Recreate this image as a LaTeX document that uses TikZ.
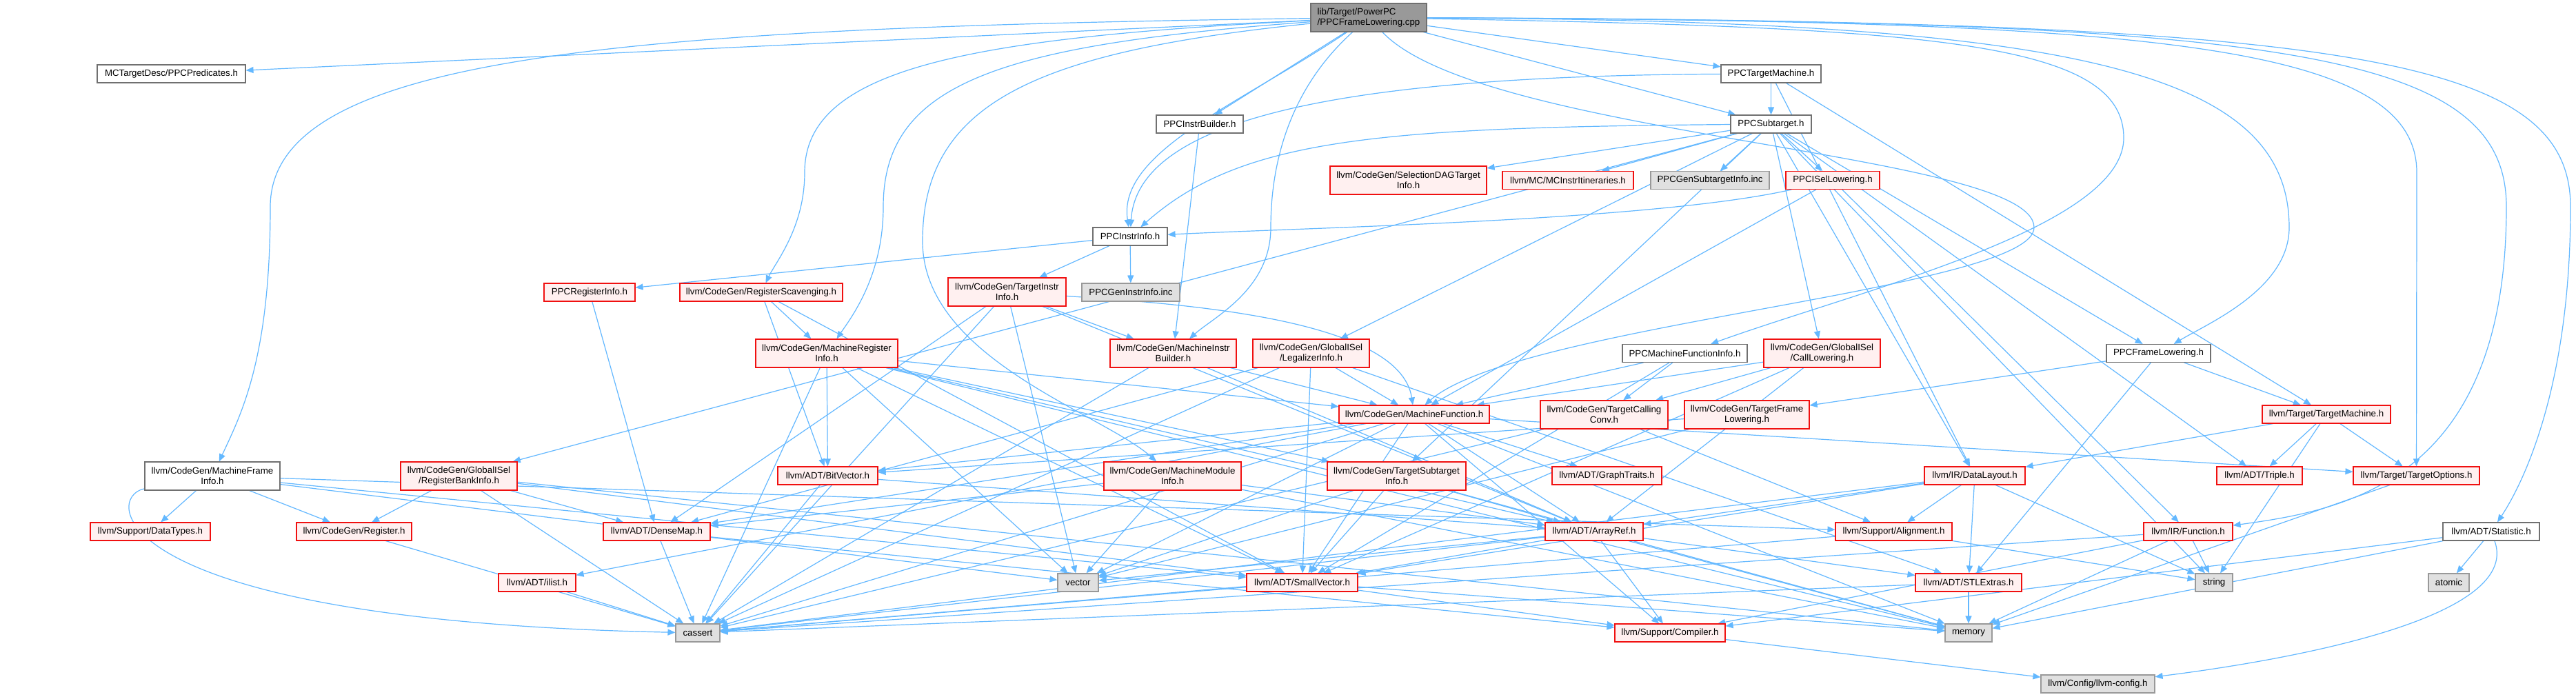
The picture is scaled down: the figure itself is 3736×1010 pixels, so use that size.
\documentclass[tikz,border=0pt]{standalone}
\usepackage{fontspec}
\setmainfont{Liberation Sans}
\usetikzlibrary{arrows.meta}
\definecolor{dxedge}{HTML}{63B8FF}
\definecolor{dxred}{HTML}{F01010}
\definecolor{dxpink}{HTML}{FFF0F0}
\definecolor{dxgray}{HTML}{E0E0E0}
\definecolor{dxgraybd}{HTML}{999999}
\definecolor{dxwbd}{HTML}{707070}
\definecolor{dxroot}{HTML}{999999}
\pgfdeclarelayer{bgl}\pgfdeclarelayer{edl}\pgfsetlayers{bgl,edl,main}
\newcommand\dxfont{\fontsize{13.3}{15}\selectfont}
\begin{document}
\begin{tikzpicture}[x=1pt,y=-1pt,
 bx/.style={draw, line width=1.1pt, minimum height=26pt, inner sep=0pt, align=center, font=\dxfont},
 redn/.style={bx, draw=dxred, fill=dxpink},
 grayn/.style={bx, draw=dxgraybd, fill=dxgray},
 whiten/.style={bx, draw=dxwbd, fill=white},
 rootn/.style={bx, draw=dxwbd, fill=dxroot, align=left},
 two/.style={minimum height=41pt},
 e/.style={draw=dxedge, line width=1.2pt, -{Triangle[length=11pt,width=9pt]}}]
\useasboundingbox (0,0) rectangle (3736,1010);
\begin{pgfonlayer}{bgl}\fill[white] (0,0) rectangle (3736,1010);\end{pgfonlayer}
% nodes
\node[rootn, two, minimum width=168pt] (root) at (1985,25.5) {lib/Target/PowerPC\\/PPCFrameLowering.cpp};
\node[whiten, minimum width=215pt] (pred) at (248.5,107) {MCTargetDesc/PPCPredicates.h};
\node[whiten, minimum width=145pt] (ptm) at (2568.5,107) {PPCTargetMachine.h};
\node[whiten, minimum width=126pt] (pib) at (1740,180) {PPCInstrBuilder.h};
\node[whiten, minimum width=117pt] (psub) at (2568.5,180) {PPCSubtarget.h};
\node[redn, two, minimum width=227pt] (sdag) at (2042.5,261.5) {llvm/CodeGen/SelectionDAGTarget\\Info.h};
\node[redn, minimum width=190pt] (mcii) at (2274,261.5) {llvm/MC/MCInstrItineraries.h};
\node[grayn, minimum width=172pt] (pgsi) at (2480,261.5) {PPCGenSubtargetInfo.inc};
\node[redn, minimum width=136pt] (pisel) at (2658,261.5) {PPCISelLowering.h};
\node[whiten, minimum width=108pt] (pii) at (1639,343) {PPCInstrInfo.h};
\node[redn, minimum width=132pt] (pri) at (855,424) {PPCRegisterInfo.h};
\node[redn, minimum width=236pt] (rsc) at (1104,424) {llvm/CodeGen/RegisterScavenging.h};
\node[redn, two, minimum width=171pt] (tii) at (1460.5,423.5) {llvm/CodeGen/TargetInstr\\Info.h};
\node[grayn, minimum width=142pt] (pgii) at (1640,424) {PPCGenInstrInfo.inc};
\node[redn, two, minimum width=206pt] (mri) at (1199,512.5) {llvm/CodeGen/MachineRegister\\Info.h};
\node[redn, two, minimum width=183pt] (mib) at (1701.5,512.5) {llvm/CodeGen/MachineInstr\\Builder.h};
\node[redn, two, minimum width=169pt] (leg) at (1901.5,512.5) {llvm/CodeGen/GlobalISel\\/LegalizerInfo.h};
\node[whiten, minimum width=181pt] (pmfi) at (2443.5,512.5) {PPCMachineFunctionInfo.h};
\node[redn, two, minimum width=169pt] (cl) at (2642.5,512.5) {llvm/CodeGen/GlobalISel\\/CallLowering.h};
\node[whiten, minimum width=151pt] (pfl) at (3130.5,512.5) {PPCFrameLowering.h};
\node[redn, minimum width=218pt] (mf) at (2051,601) {llvm/CodeGen/MachineFunction.h};
\node[redn, two, minimum width=185pt] (tcc) at (2326.5,601.5) {llvm/CodeGen/TargetCalling\\Conv.h};
\node[redn, two, minimum width=181pt] (tfl) at (2533.5,601.5) {llvm/CodeGen/TargetFrame\\Lowering.h};
\node[redn, minimum width=186pt] (tm) at (3374,601) {llvm/Target/TargetMachine.h};
\node[whiten, two, minimum width=196pt] (mfi) at (308,690.5) {llvm/CodeGen/MachineFrame\\Info.h};
\node[redn, two, minimum width=169pt] (rbi) at (665.5,690.5) {llvm/CodeGen/GlobalISel\\/RegisterBankInfo.h};
\node[redn, minimum width=145pt] (bv) at (1200.5,690) {llvm/ADT/BitVector.h};
\node[redn, two, minimum width=199pt] (mmi) at (1700.5,690.5) {llvm/CodeGen/MachineModule\\Info.h};
\node[redn, two, minimum width=201pt] (tsi) at (2025.5,690.5) {llvm/CodeGen/TargetSubtarget\\Info.h};
\node[redn, minimum width=159pt] (gt) at (2330.5,690) {llvm/ADT/GraphTraits.h};
\node[redn, minimum width=146pt] (dl) at (2864,690) {llvm/IR/DataLayout.h};
\node[redn, minimum width=124pt] (tri) at (3277,690) {llvm/ADT/Triple.h};
\node[redn, minimum width=183pt] (tgo) at (3504.5,690) {llvm/Target/TargetOptions.h};
\node[redn, minimum width=174pt] (dt) at (218,771) {llvm/Support/DataTypes.h};
\node[redn, minimum width=167pt] (reg) at (513.5,771) {llvm/CodeGen/Register.h};
\node[redn, minimum width=155pt] (dm) at (952.5,771) {llvm/ADT/DenseMap.h};
\node[redn, minimum width=142pt] (ar) at (2312,771) {llvm/ADT/ArrayRef.h};
\node[redn, minimum width=169pt] (al) at (2746.5,771) {llvm/Support/Alignment.h};
\node[redn, minimum width=129pt] (fn) at (3173.5,771) {llvm/IR/Function.h};
\node[whiten, minimum width=140pt] (stat) at (3613,771) {llvm/ADT/Statistic.h};
\node[redn, minimum width=112pt] (il) at (779,845) {llvm/ADT/ilist.h};
\node[grayn, minimum width=59pt] (vec) at (1563.5,845) {vector};
\node[redn, minimum width=161pt] (sv) at (1888.5,845) {llvm/ADT/SmallVector.h};
\node[redn, minimum width=154pt] (stl) at (2855,845) {llvm/ADT/STLExtras.h};
\node[grayn, minimum width=54pt] (str) at (3211,845) {string};
\node[grayn, minimum width=59pt] (atm) at (3551.5,845) {atomic};
\node[grayn, minimum width=64pt] (cas) at (1012,918) {cassert};
\node[redn, minimum width=160pt] (comp) at (2422,918) {llvm/Support/Compiler.h};
\node[grayn, minimum width=68pt] (mem) at (2855,918) {memory};
\node[grayn, minimum width=165pt] (cfg) at (3042.5,992) {llvm/Config/llvm-config.h};
% edges
\begin{pgfonlayer}{edl}
% root
\draw[e] (root) -- (pred);
\draw[e] (root) -- (ptm);
\draw[e] (root) -- (pib);
\draw[e] (root) -- (psub);
\draw[e] (root) .. controls (2150,200) and (2950,220) .. (2950,330) .. controls (2950,420) and (2200,470) .. (mf);
\draw[e] (root) .. controls (1800,150) and (1620,220) .. (pii);
\draw[e] (root) .. controls (900,40) and (392,80) .. (392,300) .. controls (392,520) and (350,600) .. (mfi);
\draw[e] (root) .. controls (1400,55) and (1167,100) .. (1167,250) .. controls (1167,330) and (1125,380) .. (rsc);
\draw[e] (root) .. controls (1450,65) and (1281,120) .. (1281,300) .. controls (1281,400) and (1235,460) .. (mri);
\draw[e] (root) .. controls (1500,75) and (1338,150) .. (1338,350) .. controls (1338,520) and (1600,600) .. (mmi);
\draw[e] (root) .. controls (1880,120) and (1843,220) .. (1843,330) .. controls (1843,420) and (1760,460) .. (mib);
\draw[e] (root) .. controls (2800,40) and (3080,60) .. (3080,200) .. controls (3080,330) and (2700,420) .. (pmfi);
\draw[e] (root) .. controls (3000,30) and (3320,100) .. (3320,330) .. controls (3320,420) and (3200,470) .. (pfl);
\draw[e] (root) .. controls (3100,30) and (3505,60) .. (3505,250) -- (tgo);
\draw[e] (root) .. controls (3300,30) and (3635,70) .. (3635,300) .. controls (3635,700) and (3400,740) .. (fn);
\draw[e] (root) .. controls (3400,30) and (3728,80) .. (3728,300) .. controls (3728,560) and (3660,700) .. (stat);
% PPCTargetMachine
\draw[e] (ptm) -- (psub);
\draw[e] (ptm) .. controls (2000,110) and (1650,160) .. (pii);
\draw[e] (ptm) -- (dl);
\draw[e] (ptm) -- (tm);
% PPCInstrBuilder
\draw[e] (pib) -- (mib);
% PPCSubtarget
\draw[e] (psub) -- (sdag);
\draw[e] (psub) -- (mcii);
\draw[e] (psub) -- (pgsi);
\draw[e] (psub) -- (pisel);
\draw[e] (psub) .. controls (2000,185) and (1800,200) .. (pii);
\draw[e] (psub) -- (pfl);
\draw[e] (psub) -- (cl);
\draw[e] (psub) -- (leg);
\draw[e] (psub) -- (rbi);
\draw[e] (psub) -- (tsi);
\draw[e] (psub) -- (dl);
\draw[e] (psub) -- (tri);
\draw[e] (psub) -- (str);
% PPCISelLowering
\draw[e] (pisel) .. controls (2400,320) and (1900,330) .. (pii);
\draw[e] (pisel) -- (mf);
\draw[e] (pisel) -- (fn);
% PPCInstrInfo
\draw[e] (pii) -- (pri);
\draw[e] (pii) -- (tii);
\draw[e] (pii) -- (pgii);
% PPCRegisterInfo
\draw[e] (pri) -- (dm);
% RegisterScavenging
\draw[e] (rsc) -- (mri);
\draw[e] (rsc) -- (bv);
\draw[e] (rsc) -- (sv);
% TargetInstrInfo
\draw[e] (tii) -- (mib);
\draw[e] (tii) .. controls (1700,440) and (2030,460) .. (mf);
\draw[e] (tii) -- (ar);
\draw[e] (tii) -- (dm);
\draw[e] (tii) -- (cas);
\draw[e] (tii) -- (vec);
% MachineRegisterInfo
\draw[e] (mri) -- (mf);
\draw[e] (mri) -- (tsi);
\draw[e] (mri) -- (bv);
\draw[e] (mri) -- (ar);
\draw[e] (mri) -- (sv);
\draw[e] (mri) -- (cas);
\draw[e] (mri) -- (mem);
\draw[e] (mri) -- (vec);
% MachineInstrBuilder
\draw[e] (mib) -- (mf);
\draw[e] (mib) -- (ar);
\draw[e] (mib) -- (cas);
% LegalizerInfo
\draw[e] (leg) -- (mf);
\draw[e] (leg) -- (sv);
\draw[e] (leg) -- (dm);
\draw[e] (leg) -- (stl);
\draw[e] (leg) -- (cas);
% PPCMachineFunctionInfo
\draw[e] (pmfi) -- (mf);
\draw[e] (pmfi) -- (tcc);
\draw[e] (pmfi) -- (sv);
% CallLowering
\draw[e] (cl) -- (tcc);
\draw[e] (cl) -- (mf);
\draw[e] (cl) -- (ar);
\draw[e] (cl) -- (sv);
% PPCFrameLowering.h
\draw[e] (pfl) -- (tfl);
\draw[e] (pfl) -- (tm);
\draw[e] (pfl) -- (stl);
% MachineFunction
\draw[e] (mf) -- (ar);
\draw[e] (mf) -- (bv);
\draw[e] (mf) -- (dm);
\draw[e] (mf) -- (gt);
\draw[e] (mf) -- (sv);
\draw[e] (mf) -- (il);
\draw[e] (mf) -- (comp);
\draw[e] (mf) -- (tgo);
\draw[e] (mf) -- (cas);
\draw[e] (mf) -- (mem);
\draw[e] (mf) -- (vec);
% TargetCallingConv
\draw[e] (tcc) -- (al);
\draw[e] (tcc) -- (cas);
% TargetFrameLowering
\draw[e] (tfl) -- (bv);
\draw[e] (tfl) -- (vec);
% TargetMachine
\draw[e] (tm) -- (dl);
\draw[e] (tm) -- (tri);
\draw[e] (tm) -- (tgo);
\draw[e] (tm) -- (str);
% MachineFrameInfo
\draw[e] (mfi) -- (dt);
\draw[e] (mfi) -- (reg);
\draw[e] (mfi) -- (sv);
\draw[e] (mfi) -- (al);
\draw[e] (mfi) .. controls (150,720) and (150,900) .. (cas);
\draw[e] (mfi) -- (vec);
% RegisterBankInfo
\draw[e] (rbi) -- (reg);
\draw[e] (rbi) -- (dm);
\draw[e] (rbi) -- (sv);
\draw[e] (rbi) -- (cas);
\draw[e] (rbi) -- (mem);
% BitVector
\draw[e] (bv) -- (ar);
\draw[e] (bv) -- (cas);
% MachineModuleInfo
\draw[e] (mmi) -- (dm);
\draw[e] (mmi) -- (ar);
\draw[e] (mmi) -- (vec);
\draw[e] (mmi) -- (mem);
% TargetSubtargetInfo
\draw[e] (tsi) -- (ar);
\draw[e] (tsi) -- (sv);
\draw[e] (tsi) -- (mem);
\draw[e] (tsi) -- (vec);
% DataLayout
\draw[e] (dl) -- (ar);
\draw[e] (dl) -- (stl);
\draw[e] (dl) -- (sv);
\draw[e] (dl) -- (al);
\draw[e] (dl) -- (cas);
\draw[e] (dl) -- (str);
% TargetOptions
\draw[e] (tgo) -- (mem);
% Register, DenseMap, ilist
\draw[e] (reg) -- (cas);
\draw[e] (dm) -- (comp);
\draw[e] (dm) -- (cas);
\draw[e] (il) -- (cas);
% ArrayRef
\draw[e] (ar) -- (sv);
\draw[e] (ar) -- (stl);
\draw[e] (ar) -- (comp);
\draw[e] (ar) -- (cas);
\draw[e] (ar) -- (mem);
\draw[e] (ar) -- (vec);
% Alignment
\draw[e] (al) -- (cas);
\draw[e] (al) -- (str);
% Function
\draw[e] (fn) -- (comp);
\draw[e] (fn) -- (cas);
\draw[e] (fn) -- (mem);
\draw[e] (fn) -- (str);
% Statistic
\draw[e] (stat) .. controls (3660,900) and (3300,960) .. (cfg);
\draw[e] (stat) -- (comp);
\draw[e] (stat) -- (atm);
\draw[e] (stat) -- (mem);
% SmallVector, STLExtras, Compiler
\draw[e] (sv) -- (comp);
\draw[e] (sv) -- (cas);
\draw[e] (sv) -- (mem);
\draw[e] (stl) -- (cas);
\draw[e] (stl) -- (mem);
\draw[e] (comp) -- (cfg);
\end{pgfonlayer}
\end{tikzpicture}
\end{document}
